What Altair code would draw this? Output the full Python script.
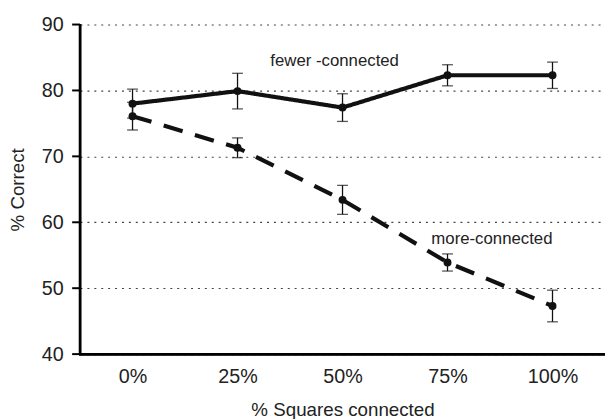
import altair as alt
import pandas as pd

categories = ["0%", "25%", "50%", "75%", "100%"]
fewer_values = [78.0, 79.9, 77.4, 82.3, 82.3]
fewer_errors = [2.2, 2.7, 2.1, 1.6, 2.0]
more_values = [76.1, 71.3, 63.4, 53.9, 47.3]
more_errors = [2.1, 1.5, 2.2, 1.3, 2.4]
y_ticks = [40, 50, 60, 70, 80, 90]

series_names = ["fewer", "more"]
annotation_texts = ["fewer -connected", "more-connected"]
annotation_cats = ["50%", "75%"]
annotation_y = [84.5, 57.5]

rows = []
for name, vals, errs in [("fewer", fewer_values, fewer_errors), ("more", more_values, more_errors)]:
    for c, v, e in zip(categories, vals, errs):
        rows.append({"cat": c, "series": name, "value": v, "lo": v - e, "hi": v + e})
df = pd.DataFrame(rows)

FONT = "Liberation Sans"
W, H = 532, 334

x_axis = alt.Axis(title="% Squares connected", labelAngle=0, ticks=False, domain=False,
                  labelPadding=13, titlePadding=14, grid=False)
y_axis = alt.Axis(title="% Correct", values=y_ticks, ticks=False, domain=False,
                  labelPadding=17, titlePadding=14,
                  grid=True, gridDash=[2, 5], gridColor="#444", gridWidth=1.2)

x_enc = alt.X("cat:N", sort=categories,
              scale=alt.Scale(type="point", padding=0.5), axis=x_axis)
y_scale = alt.Scale(domain=[40, 90], nice=False, zero=False)

base = alt.Chart(df)

lines = base.mark_line(color="#111", strokeWidth=4.2).encode(
    x=x_enc, y=alt.Y("value:Q", scale=y_scale, axis=y_axis),
    strokeDash=alt.StrokeDash("series:N",
                              scale=alt.Scale(domain=series_names, range=[[1, 0], [20, 13]]),
                              legend=None),
    detail="series:N",
)
points = base.mark_point(filled=True, color="#111", size=65, opacity=1).encode(
    x=alt.X("cat:N", sort=categories, axis=x_axis), y=alt.Y("value:Q", axis=y_axis)
)
rules = base.mark_rule(color="#111", strokeWidth=1.3).encode(
    x=alt.X("cat:N", sort=categories, axis=x_axis), y=alt.Y("lo:Q", axis=y_axis), y2="hi:Q"
)
caps_lo = base.mark_tick(color="#111", thickness=1.3, size=11, orient="horizontal").encode(
    x=alt.X("cat:N", sort=categories, axis=x_axis), y=alt.Y("lo:Q", axis=y_axis)
)
caps_hi = base.mark_tick(color="#111", thickness=1.3, size=11, orient="horizontal").encode(
    x=alt.X("cat:N", sort=categories, axis=x_axis), y=alt.Y("hi:Q", axis=y_axis)
)

# axis lines and y ticks
tick_df = pd.DataFrame({"v": y_ticks})
ytick_marks = alt.Chart(tick_df).mark_rule(color="#000", strokeWidth=2).encode(
    y=alt.Y("v:Q", axis=y_axis), x=alt.value(-8), x2=alt.value(0)
)
y_domain = alt.Chart(tick_df).mark_rule(color="#000", strokeWidth=2.2).encode(
    x=alt.value(0), y=alt.datum(min(y_ticks)), y2=alt.datum(max(y_ticks))
)
x_domain = alt.Chart(tick_df).mark_rule(color="#000", strokeWidth=2.5).encode(
    y=alt.datum(min(y_ticks)), x=alt.value(-1), x2=alt.value(W)
)

ann1 = alt.Chart(pd.DataFrame({"cat": [annotation_cats[0]], "y": [annotation_y[0]],
                               "t": [annotation_texts[0]]})).mark_text(
    font=FONT, fontSize=17, color="#222", dx=-8).encode(
    x=alt.X("cat:N", sort=categories, axis=x_axis), y=alt.Y("y:Q", axis=y_axis), text="t:N")
ann2 = alt.Chart(pd.DataFrame({"cat": [annotation_cats[1]], "y": [annotation_y[1]],
                               "t": [annotation_texts[1]]})).mark_text(
    font=FONT, fontSize=17, color="#222", dx=45).encode(
    x=alt.X("cat:N", sort=categories, axis=x_axis), y=alt.Y("y:Q", axis=y_axis), text="t:N")

chart = alt.layer(lines, rules, caps_lo, caps_hi, points, ytick_marks, y_domain, x_domain,
                  ann1, ann2).properties(
    width=W, height=H,
    autosize=alt.AutoSizeParams(type="none"),
    padding={"left": 73, "top": 14, "right": 0, "bottom": 63},
).configure_view(stroke=None).configure_axis(
    labelFont=FONT, titleFont=FONT, labelFontSize=20, titleFontSize=19,
    labelColor="#222", titleColor="#222", titleFontWeight="normal",
)

chart.save("out.html", embed_options={"renderer": "svg", "actions": False})
